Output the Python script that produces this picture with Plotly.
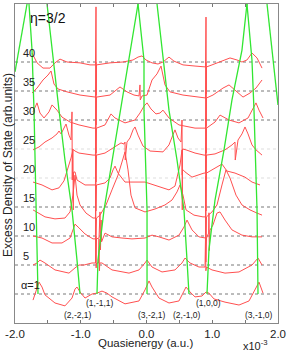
import plotly.graph_objects as go

# ---------------- data ----------------
CURVE_LABELS = ["α=1", "5", "10", "15", "20", "25", "30", "35", "40"]
OFFSETS = [1, 2, 3, 4, 5, 6, 7, 8, 9]
FAINT_BASELINES = [5, 6]

# excess DOS curves: (quasienergy [1e-3 a.u.], excess DOS relative to its baseline)
A1 = [(-1.726,-0.21),(-1.665,0.24),(-1.635,0.41),(-1.589,0.24),(-1.544,-0.03),(-1.392,-0.31),
      (-1.240,-0.41),(-1.133,-0.14),(-1.087,0.17),(-1.057,0.24),(-1.011,0.07),(-0.935,-0.14),
      (-0.829,0.0),(-0.753,0.03),(-0.677,0.10),(-0.601,0.03),(-0.525,-0.10),(-0.327,-0.34),
      (-0.114,-0.24),(-0.023,0.14),(0.038,0.45),(0.084,0.24),(0.190,-0.14),(0.342,-0.31),
      (0.494,-0.24),(0.570,0.10),(0.601,0.24),(0.662,0.07),(0.738,-0.10),(0.844,-0.07),
      (0.905,0.07),(0.950,0.03),(1.026,-0.17),(1.194,-0.28),(1.407,-0.38),(1.559,-0.24),
      (1.650,0.14),(1.711,0.41),(1.772,0.03)]
A5 = [(-1.726,0.0),(-1.665,0.07),(-1.620,0.17),(-1.544,0.07),(-1.392,-0.17),(-1.179,-0.28),
      (-1.087,-0.10),(-1.027,0.0),(-0.950,0.0),(-0.829,0.07),(-0.776,0.07),(-0.770,1.0),
      (-0.766,-0.1),(-0.760,0.07),(-0.730,0.07),(-0.722,0.9),(-0.716,-0.2),(-0.710,0.07),
      (-0.677,0.07),(-0.525,-0.17),(-0.266,-0.28),(-0.114,-0.17),(-0.023,0.07),(0.008,0.17),
      (0.084,-0.07),(0.236,-0.24),(0.433,-0.17),(0.540,0.07),(0.586,0.24),(0.662,0.07),
      (0.798,-0.07),(0.890,-0.07),(0.898,1.0),(0.903,-0.2),(0.913,-0.07),(0.996,-0.17),
      (1.194,-0.28),(1.407,-0.24),(1.605,0.0),(1.696,0.24),(1.757,0.0)]
A10 = [(-1.726,0.0),(-1.589,-0.07),(-1.437,-0.24),(-1.285,-0.24),(-1.163,-0.07),(-1.118,0.21),
       (-1.087,0.41),(-1.027,0.28),(-0.935,0.07),(-0.814,-0.10),(-0.776,-0.10),(-0.775,1.07),
       (-0.771,-0.9),(-0.760,-0.10),(-0.722,-0.07),(-0.707,0.83),(-0.700,-0.48),(-0.690,0.55),
       (-0.683,-0.2),(-0.631,0.10),(-0.525,-0.03),(-0.373,-0.07),(-0.221,-0.10),(-0.023,-0.07),
       (0.084,0.03),(0.190,-0.03),(0.342,-0.14),(0.494,0.03),(0.570,0.31),(0.616,0.55),
       (0.692,0.21),(0.798,-0.03),(0.859,-0.07),(0.898,-0.07),(0.899,1.07),(0.903,-0.9),
       (0.913,-0.07),(0.945,0.1),(0.950,0.8),(0.955,-0.5),(0.965,0.2),(1.011,0.38),
       (1.072,0.79),(1.118,0.83),(1.194,0.55),(1.300,0.21),(1.452,0.03),(1.605,-0.03),
       (1.711,-0.03),(1.757,-0.03)]
A15 = [(-1.726,-0.10),(-1.544,-0.34),(-1.392,-0.41),(-1.240,-0.38),(-1.163,-0.17),(-1.118,0.41),
       (-1.087,1.10),(-1.057,0.41),(-1.011,0.07),(-0.920,-0.21),(-0.814,-0.38),(-0.776,-0.38),
       (-0.774,1.07),(-0.770,-1.14),(-0.760,-0.38),(-0.707,-0.28),(-0.616,0.07),(-0.525,0.59),
       (-0.433,1.10),(-0.373,1.55),(-0.327,1.90),(-0.281,1.28),(-0.236,0.41),(-0.175,-0.03),
       (-0.023,-0.17),(0.129,-0.07),(0.281,0.07),(0.388,0.24),(0.464,0.52),(0.510,0.76),
       (0.555,0.41),(0.601,-0.10),(0.722,-0.28),(0.859,-0.34),(0.898,-0.34),(0.900,1.07),
       (0.904,-1.14),(0.913,-0.34),(0.996,-0.17),(1.072,0.07),(1.148,0.76),(1.209,1.28),
       (1.270,1.0),(1.361,0.41),(1.452,0.07),(1.574,-0.10),(1.681,-0.21),(1.757,-0.28)]
A20 = [(-1.726,-0.14),(-1.589,-0.24),(-1.437,-0.41),(-1.331,-0.34),(-1.255,-0.10),(-1.209,0.21),
       (-1.179,0.45),(-1.148,0.69),(-1.118,0.97),(-1.114,-1.10),(-1.110,0.2),(-1.087,0.21),
       (-1.057,-0.07),(-0.935,-0.24),(-0.814,-0.24),(-0.776,-0.24),(-0.773,1.07),(-0.769,-1.14),
       (-0.760,-0.24),(-0.631,-0.17),(-0.555,0.0),(-0.509,0.28),(-0.479,0.41),(-0.433,0.17),
       (-0.327,-0.14),(-0.023,-0.14),(0.190,-0.31),(0.342,-0.41),(0.433,-0.28),(0.479,0.10),
       (0.510,0.45),(0.540,0.97),(0.544,-1.10),(0.548,0.3),(0.586,0.21),(0.692,0.03),
       (0.875,0.17),(0.898,0.17),(0.901,1.07),(0.905,-1.14),(0.913,0.17),(1.042,0.34),
       (1.148,0.48),(1.224,0.24),(1.346,0.17),(1.498,0.03),(1.605,-0.14),(1.726,-0.24)]
A25 = [(-1.726,-0.03),(-1.635,0.07),(-1.544,0.24),(-1.437,0.38),(-1.361,0.52),(-1.331,0.62),
       (-1.300,0.52),(-1.255,0.72),(-1.224,0.86),(-1.179,0.48),(-1.148,0.31),(-1.133,1.28),
       (-1.129,-1.07),(-1.124,0.0),(-1.087,-0.07),(-1.027,-0.14),(-0.814,-0.21),(-0.776,-0.21),
       (-0.772,1.07),(-0.768,-1.14),(-0.760,-0.21),(-0.631,-0.14),(-0.479,0.07),(-0.388,0.21),
       (-0.342,0.17),(-0.327,0.24),(-0.323,-0.38),(-0.297,0.24),(-0.251,0.38),(-0.205,0.66),
       (-0.175,0.76),(-0.129,0.48),(-0.053,0.10),(0.053,-0.07),(0.251,-0.10),(0.342,0.14),
       (0.388,0.41),(0.433,0.66),(0.479,0.38),(0.525,0.24),(0.540,1.0),(0.544,-0.9),
       (0.548,0.0),(0.601,-0.03),(0.738,-0.14),(0.875,-0.21),(0.898,-0.21),(0.902,1.07),
       (0.906,-1.14),(0.913,-0.21),(1.042,-0.17),(1.194,-0.03),(1.300,0.14),(1.346,0.24),
       (1.350,-0.38),(1.392,0.31),(1.452,0.52),(1.498,0.76),(1.544,0.52),(1.605,0.14),
       (1.665,-0.03),(1.757,-0.21)]
A30 = [(-1.726,0.28),(-1.665,0.59),(-1.620,0.24),(-1.559,0.07),(-1.483,0.28),(-1.437,0.52),
       (-1.361,0.34),(-1.285,0.10),(-1.163,-0.07),(-1.027,-0.17),(-0.814,-0.28),(-0.776,-0.28),
       (-0.771,1.03),(-0.767,-1.14),(-0.760,-0.28),(-0.631,-0.17),(-0.586,0.0),(-0.540,0.21),
       (-0.479,0.07),(-0.327,-0.10),(-0.175,0.0),(-0.099,0.24),(-0.038,0.48),(0.008,0.59),
       (0.068,0.38),(0.144,0.21),(0.205,0.24),(0.251,0.34),(0.342,0.07),(0.494,-0.17),
       (0.738,-0.28),(0.875,-0.28),(0.898,-0.28),(0.904,1.03),(0.908,-1.14),(0.913,-0.28),
       (1.042,-0.07),(1.118,0.17),(1.255,0.0),(1.407,-0.10),(1.544,0.07),(1.620,0.41),
       (1.665,0.59),(1.711,0.34),(1.772,0.07)]
A35 = [(-1.741,-0.07),(-1.665,0.10),(-1.574,0.38),(-1.498,0.55),(-1.452,0.69),(-1.407,0.24),
       (-1.346,0.07),(-1.209,-0.03),(-1.011,-0.14),(-0.814,-0.21),(-0.776,-0.21),(-0.770,1.0),
       (-0.766,-1.17),(-0.760,-0.21),(-0.555,-0.14),(-0.464,0.03),(-0.403,0.14),(-0.297,-0.03),
       (-0.190,-0.14),(-0.114,-0.17),(-0.099,0.21),(-0.095,-0.31),(-0.068,-0.17),(0.008,-0.14),
       (0.084,0.38),(0.160,0.59),(0.221,0.86),(0.281,0.21),(0.357,-0.03),(0.555,-0.14),
       (0.859,-0.24),(0.898,-0.24),(0.903,1.0),(0.907,-1.2),(0.913,-0.24),(1.011,-0.14),
       (1.163,0.10),(1.255,0.21),(1.346,0.03),(1.468,-0.21),(1.574,-0.07),(1.665,0.10),
       (1.757,0.38)]
A40 = [(-1.741,0.31),(-1.665,-0.03),(-1.574,-0.21),(-1.468,-0.21),(-1.392,-0.03),(-1.316,0.10),
       (-1.209,0.0),(-1.011,-0.03),(-0.859,-0.10),(-0.776,-0.10),(-0.768,1.90),(-0.764,-1.14),
       (-0.760,-0.10),(-0.555,-0.03),(-0.357,0.0),(-0.205,0.07),(-0.129,0.17),(-0.068,0.21),
       (-0.008,0.07),(0.084,-0.03),(0.175,-0.07),(0.251,0.0),(0.342,0.17),(0.418,0.03),
       (0.555,-0.10),(0.738,-0.14),(0.875,-0.17),(0.898,-0.17),(0.905,1.55),(0.909,-1.10),
       (0.913,-0.17),(0.996,-0.10),(1.118,0.0),(1.270,0.14),(1.376,0.07),(1.452,0.0),
       (1.528,0.07),(1.605,0.31),(1.681,0.14),(1.757,-0.21)]
CURVES = [A1, A5, A10, A15, A20, A25, A30, A35, A40]

# quasienergy levels (green), folded: (quasienergy, alpha-row position)
LEVEL_A = [(-2.0, 8.66), (-1.817, 11.0)]
LEVEL_B = [(-1.787, 11.0), (-1.741, 9.41), (-1.711, 7.34), (-1.696, 5.62), (-1.681, 3.90), (-1.665, 2.17), (-1.650, 1.0)]
LEVEL_C = [(-1.513, 11.0), (-1.437, 9.41), (-1.331, 7.34), (-1.240, 5.62), (-1.133, 3.90), (-1.057, 2.17), (-1.011, 1.0)]
LEVEL_D = [(-0.753, 1.0), (-0.738, 2.17), (-0.646, 3.90), (-0.509, 5.79), (-0.373, 7.69), (-0.251, 9.41), (-0.129, 11.0)]
LEVEL_D2 = [(-0.129, 11.0), (-0.038, 9.07), (-0.038, 7.34), (-0.023, 5.97), (0.008, 3.90), (0.008, 1.0)]
LEVEL_E = [(0.160, 11.0), (0.236, 9.41), (0.342, 7.34), (0.464, 5.62), (0.570, 3.90), (0.616, 2.17), (0.646, 1.0)]
LEVEL_F = [(0.920, 1.0), (0.950, 2.52), (1.042, 4.24), (1.179, 5.97), (1.300, 7.69), (1.452, 9.41), (1.528, 11.0)]
LEVEL_G = [(1.528, 11.0), (1.604, 9.07), (1.635, 7.34), (1.650, 5.97), (1.681, 3.90), (1.696, 1.0)]
LEVEL_H = [(1.833, 11.0), (1.909, 9.41), (2.0, 7.52)]
LEVELS = [LEVEL_A, LEVEL_B, LEVEL_C, LEVEL_D, LEVEL_D2, LEVEL_E, LEVEL_F, LEVEL_G, LEVEL_H]

# level labels at alpha = 1: (text, quasienergy, row position)
LEVEL_LABELS = [("(2,-2,1)", -1.042, 0.28), ("(1,-1,1)", -0.707, 0.69), ("(3,-2,1)", 0.084, 0.28),
                ("(2,-1,0)", 0.616, 0.28), ("(1,0,0)", 0.950, 0.69), ("(3,-1,0)", 1.711, 0.28)]

X_TICKS = [-2.0, -1.0, 0.0, 1.0, 2.0]
X_TICKTEXT = ["-2.0", "-1.0", "0.0", "1.0", "2.0"]

# ---------------- figure ----------------
FONT = "Liberation Sans, Arial, sans-serif"
fig = go.Figure()

for b in OFFSETS:
    col = "rgba(120,120,120,0.25)" if b in FAINT_BASELINES else "rgb(120,120,120)"
    fig.add_trace(go.Scatter(x=[-2.0, 2.0], y=[b, b], mode="lines",
                             line=dict(color=col, width=1, dash="dot"), hoverinfo="skip"))

for base, curve in zip(OFFSETS, CURVES):
    xs = [p[0] for p in curve]
    ys = [base + p[1] for p in curve]
    fig.add_trace(go.Scatter(x=xs, y=ys, mode="lines",
                             line=dict(color="rgb(255,80,80)", width=1)))

for lev in LEVELS:
    fig.add_trace(go.Scatter(x=[p[0] for p in lev], y=[p[1] for p in lev], mode="lines",
                             line=dict(color="rgb(50,230,50)", width=1.3)))

ann = []
for base, lab in zip(OFFSETS, CURVE_LABELS):
    ann.append(dict(x=-1.94 if lab.startswith("α") else -1.91, y=base + 0.31, xref="x", yref="y",
                    text=lab, showarrow=False, xanchor="left", yanchor="middle",
                    font=dict(family=FONT, size=11, color="#222")))
for txt, lx, ly in LEVEL_LABELS:
    ann.append(dict(x=lx, y=ly, xref="x", yref="y", text=txt, showarrow=False,
                    xanchor="center", yanchor="middle", font=dict(family=FONT, size=8.5, color="#222")))
ann.append(dict(x=-1.50, y=10.52, xref="x", yref="y", text="η=3/2", showarrow=False,
                xanchor="center", yanchor="middle", font=dict(family=FONT, size=14, color="#111")))
ann.append(dict(x=0.498, y=-0.062, xref="paper", yref="paper", text="Quasienergy (a.u.)",
                showarrow=False, xanchor="center", yanchor="middle",
                font=dict(family=FONT, size=11.5, color="#222")))
ann.append(dict(x=0.916, y=-0.068, xref="paper", yref="paper", text="x10<sup>-3</sup>",
                showarrow=False, xanchor="center", yanchor="middle",
                font=dict(family=FONT, size=11, color="#222")))
ann.append(dict(x=-0.027, y=0.495, xref="paper", yref="paper",
                text="Excess Density of State (arb.units)", textangle=-90,
                showarrow=False, xanchor="center", yanchor="middle",
                font=dict(family=FONT, size=12, color="#222")))

fig.update_layout(
    width=289, height=351,
    margin=dict(l=15, r=11, t=4, b=28, autoexpand=False),
    paper_bgcolor="white", plot_bgcolor="white",
    showlegend=False,
    annotations=ann,
    xaxis=dict(range=[-2, 2], tickvals=X_TICKS, ticktext=X_TICKTEXT, ticks="inside", ticklen=3,
               tickcolor="#777", showline=True, linecolor="#888", linewidth=1, mirror="ticks",
               minor=dict(dtick=0.5, ticks="inside", ticklen=3, tickcolor="#777"),
               showgrid=False, zeroline=False, automargin=False,
               tickfont=dict(family=FONT, size=11.5, color="#222")),
    yaxis=dict(range=[0, 11], showticklabels=False, ticks="", showline=True, linecolor="#888",
               linewidth=1, mirror=True, showgrid=False, zeroline=False, automargin=False),
)

fig.write_html("out.html", config={"displayModeBar": False},
               post_script="document.body.style.margin='0';document.body.style.overflow='hidden';")
